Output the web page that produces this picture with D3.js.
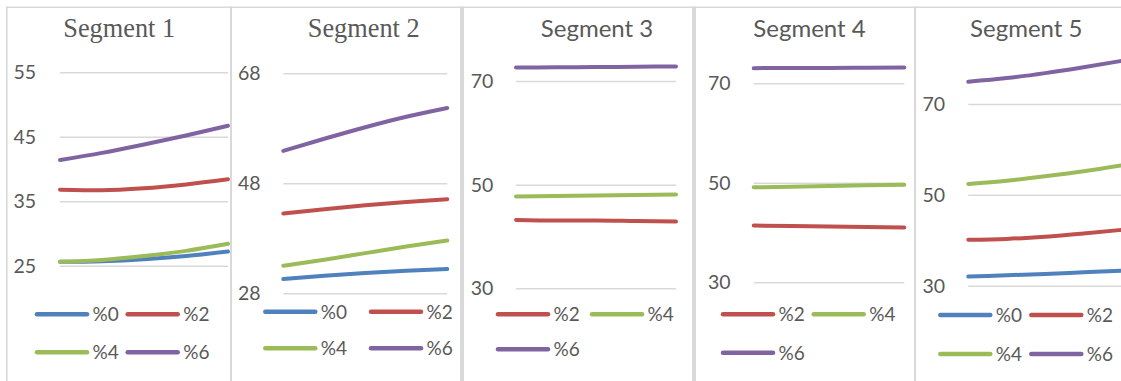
<!DOCTYPE html>
<html>
<head>
<meta charset="utf-8">
<script src="https://cdn.jsdelivr.net/npm/d3@7"></script>
<style>
  html, body { margin: 0; padding: 0; background: #ffffff; }
  svg { display: block; }
</style>
</head>
<body>
<svg id="chart" width="1121" height="381"></svg>
<script>
// ---- data ----
const segments = ["Segment 1", "Segment 2", "Segment 3", "Segment 4", "Segment 5"];
const seriesNames = ["%0", "%2", "%4", "%6"];
const seriesColors = ["#4F81BD", "#C0504D", "#9BBB59", "#8064A2"];
const steps = [1, 2, 3, 4, 5];

// one row per series (%0, %2, %4, %6); null = series absent in that segment
const seg1Values = [
  [25.6, 25.7, 26.0, 26.5, 27.2],
  [36.8, 36.7, 37.0, 37.6, 38.4],
  [25.6, 25.9, 26.5, 27.3, 28.4],
  [41.4, 42.5, 43.8, 45.2, 46.7]
];
const seg2Values = [
  [30.6, 31.2, 31.7, 32.1, 32.4],
  [42.5, 43.3, 44.0, 44.6, 45.1],
  [33.0, 34.1, 35.3, 36.5, 37.6],
  [53.9, 56.1, 58.2, 60.1, 61.7]
];
const seg3Values = [
  null,
  [43.2, 43.1, 43.1, 43.0, 42.9],
  [47.7, 47.8, 47.9, 48.0, 48.1],
  [72.6, 72.65, 72.7, 72.75, 72.8]
];
const seg4Values = [
  null,
  [41.4, 41.3, 41.2, 41.1, 41.0],
  [49.1, 49.2, 49.35, 49.5, 49.6],
  [73.05, 73.1, 73.1, 73.15, 73.2]
];
const seg5Values = [
  [32.0, 32.3, 32.6, 32.95, 33.3],
  [40.1, 40.3, 40.8, 41.5, 42.3],
  [52.4, 53.1, 54.1, 55.2, 56.5],
  [74.9, 75.7, 76.8, 78.1, 79.5]
];
const segValues = [seg1Values, seg2Values, seg3Values, seg4Values, seg5Values];

const seg1Ticks = [25, 35, 45, 55];
const seg2Ticks = [28, 48, 68];
const seg3Ticks = [30, 50, 70];
const seg4Ticks = [30, 50, 70];
const seg5Ticks = [30, 50, 70];
const segTicks = [seg1Ticks, seg2Ticks, seg3Ticks, seg4Ticks, seg5Ticks];

// ---- layout of each small chart ----
const layout = [
  { serif: true,  titleX: 119.2, x0: 60,    x1: 228,   yLo: 265.7, yHi: 72.3, labelR: 36,
    legRows: [314.3, 352.3], legCols: [35, 125.7] },
  { serif: true,  titleX: 363.7, x0: 283.3, x1: 447.3, yLo: 293.3, yHi: 73.3, labelR: 260.7,
    legRows: [311.7, 348.3], legCols: [263.3, 369] },
  { serif: false, titleX: 597,   x0: 516,   x1: 676,   yLo: 288.3, yHi: 81,   labelR: 493.3,
    legRows: [314.3, 349.3], legCols: [496, 590] },
  { serif: false, titleX: 809.5, x0: 753.7, x1: 904.3, yLo: 282.3, yHi: 83.3, labelR: 730.7,
    legRows: [314.3, 352.7], legCols: [721, 811.7] },
  { serif: false, titleX: 1026.3, x0: 968.3, x1: 1122, yLo: 285.7, yHi: 104, labelR: 945,
    legRows: [315, 354], legCols: [938.3, 1029.3] }
];
const borders = [[6, 1.6], [230, 2], [460, 4], [692, 4], [914, 2]];

const svg = d3.select("#chart");
const sans = "Lato, 'Open Sans', sans-serif";
const serif = "'Liberation Serif', 'DejaVu Serif', serif";
const textGray = "#595959";
const gridGray = "#D9D9D9";

// frame lines between the small charts
svg.append("rect").attr("x", 6).attr("y", 6.5).attr("width", 1115).attr("height", 1.5).attr("fill", gridGray);
borders.forEach(([x, w]) => {
  svg.append("rect").attr("x", x).attr("y", 6.5).attr("width", w).attr("height", 381).attr("fill", gridGray);
});

segments.forEach((name, i) => {
  const L = layout[i];
  const ticks = segTicks[i];
  const vals = segValues[i];
  const g = svg.append("g");

  const x = d3.scalePoint().domain(steps).range([L.x0, L.x1]);
  const y = d3.scaleLinear().domain([ticks[0], ticks[ticks.length - 1]]).range([L.yLo, L.yHi]);

  // title
  g.append("text")
    .attr("x", L.titleX).attr("y", 36.5)
    .attr("text-anchor", "middle")
    .attr("fill", textGray)
    .style("font-family", L.serif ? serif : sans)
    .style("font-size", L.serif ? "26.3px" : "24px")
    .text(name);

  // gridlines
  const yAxis = d3.axisLeft(y).tickValues(ticks).tickSize(-(L.x1 - L.x0)).tickFormat("");
  const ag = g.append("g").attr("transform", `translate(${L.x0},0)`).call(yAxis);
  ag.select(".domain").remove();
  ag.selectAll(".tick line").attr("stroke", gridGray).attr("stroke-width", 1.5);

  // tick labels
  g.selectAll("text.tick-label").data(ticks).join("text")
    .attr("class", "tick-label")
    .attr("x", L.labelR).attr("y", d => y(d))
    .attr("dy", "0.36em")
    .attr("text-anchor", "end")
    .attr("fill", textGray)
    .style("font-family", sans).style("font-size", "19.5px")
    .text(d => d);

  // series lines
  const line = d3.line()
    .x((d, k) => x(steps[k]))
    .y(d => y(d))
    .curve(d3.curveMonotoneX);
  const present = seriesNames.map((s, k) => ({ name: s, color: seriesColors[k], values: vals[k] }))
    .filter(s => s.values);
  g.selectAll("path.series").data(present).join("path")
    .attr("class", "series")
    .attr("d", s => line(s.values))
    .attr("fill", "none")
    .attr("stroke", s => s.color)
    .attr("stroke-width", 4)
    .attr("stroke-linecap", "round");

  // legend: two items per row
  present.forEach((s, k) => {
    const ly = L.legRows[Math.floor(k / 2)];
    const lx = L.legCols[k % 2];
    g.append("line")
      .attr("x1", lx + 2).attr("x2", lx + 52).attr("y1", ly).attr("y2", ly)
      .attr("stroke", s.color).attr("stroke-width", 4.5).attr("stroke-linecap", "round");
    g.append("text")
      .attr("x", lx + 57.5).attr("y", ly).attr("dy", "0.36em")
      .attr("fill", textGray)
      .style("font-family", sans).style("font-size", "19px")
      .text(s.name);
  });
});
</script>
</body>
</html>
